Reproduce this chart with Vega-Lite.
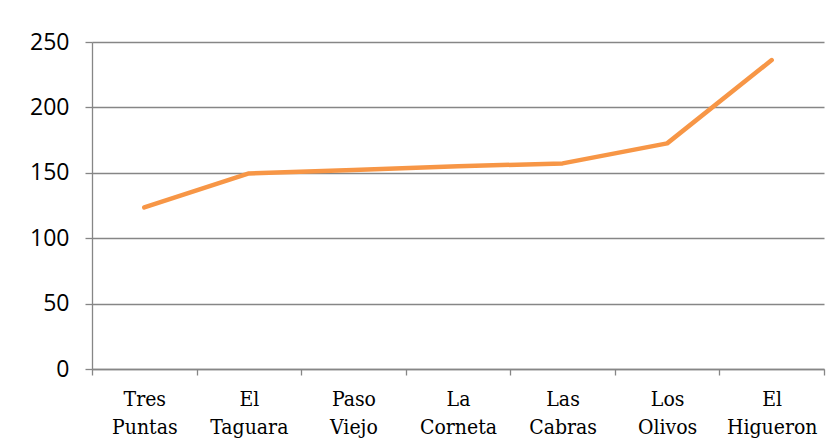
{
  "$schema": "https://vega.github.io/schema/vega-lite/v6.json",
  "width": 732,
  "height": 327,
  "autosize": {"type": "none"},
  "padding": {"left": 92, "top": 42, "right": 16, "bottom": 77},
  "background": "white",
  "config": {"view": {"stroke": null}},
  "data": {"values": [
    {"lugar": "Tres Puntas", "valor": 123.5},
    {"lugar": "El Taguara", "valor": 149.5},
    {"lugar": "Paso Viejo", "valor": 152.2},
    {"lugar": "La Corneta", "valor": 155.0},
    {"lugar": "Las Cabras", "valor": 157.2},
    {"lugar": "Los Olivos", "valor": 172.5},
    {"lugar": "El Higueron", "valor": 236.2}
  ]},
  "mark": {"type": "line", "color": "#F79646", "strokeWidth": 4.5, "strokeCap": "round", "strokeJoin": "round"},
  "encoding": {
    "x": {
      "field": "lugar", "type": "nominal", "sort": null, "bandPosition": 0.5,
      "scale": {"type": "band", "paddingInner": 0, "paddingOuter": 0},
      "axis": {
        "title": null, "labelAngle": 0, "labelExpr": "split(datum.label, ' ')",
        "labelFont": "DejaVu Serif Condensed", "labelFontSize": 21, "labelColor": "#000000",
        "labelLineHeight": 28, "labelPadding": 13, "labelBaseline": "top",
        "tickBand": "extent", "tickSize": 6, "tickColor": "#868686", "tickWidth": 1.3,
        "domainColor": "#868686", "domainWidth": 1.3, "grid": false
      }
    },
    "y": {
      "field": "valor", "type": "quantitative",
      "scale": {"domain": [0, 250], "nice": false},
      "axis": {
        "title": null, "values": [0, 50, 100, 150, 200, 250],
        "labelFont": "Open Sans", "labelFontSize": 23, "labelColor": "#000000",
        "labelPadding": 16, "tickSize": 7, "tickColor": "#868686", "tickWidth": 1.3,
        "domainColor": "#868686", "domainWidth": 1.3,
        "grid": true, "gridColor": "#868686", "gridWidth": 1.3
      }
    }
  }
}
